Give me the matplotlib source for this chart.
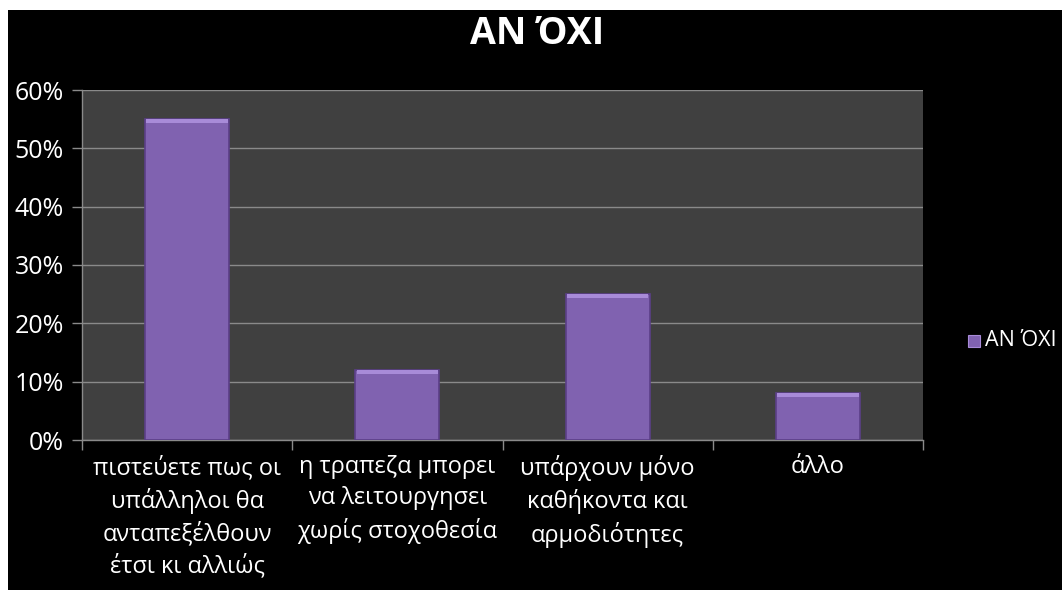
import numpy as np
import matplotlib
import matplotlib.pyplot as plt
from matplotlib.patches import Rectangle

matplotlib.use('Agg')
plt.rcParams['font.family'] = ['Open Sans', 'DejaVu Sans']

title = 'ΑΝ ΌΧΙ'
categories = ['πιστεύετε πως οι\nυπάλληλοι θα\nανταπεξέλθουν\nέτσι κι αλλιώς',
              'η τραπεζα μπορει\nνα λειτουργησει\nχωρίς στοχοθεσία',
              'υπάρχουν μόνο\nκαθήκοντα και\nαρμοδιότητες',
              'άλλο']
values = [0.55, 0.12, 0.25, 0.08]
y_ticks = [0, 0.1, 0.2, 0.3, 0.4, 0.5, 0.6]

bar_color = '#8062b0'
bevel_color = '#a88bd8'
edge_color = '#5b3f88'
grid_color = '#8a8a8a'

fig = plt.figure(figsize=(10.62, 5.9), dpi=100, facecolor='white')
# black slide background, leaving the thin white strip at top and left
fig.patches.append(Rectangle((8 / 1062, 0), 1, 1 - 10 / 590, transform=fig.transFigure,
                             facecolor='black', edgecolor='none', zorder=-10))

ax = fig.add_axes([82 / 1062, 1 - 440 / 590, 841 / 1062, 350 / 590])
ax.set_facecolor('#404040')

x = np.arange(len(categories))
width = 0.4
ax.bar(x, values, width, color=bar_color, edgecolor=edge_color, linewidth=1.2, zorder=3)
# lighter top bevel on each bar
bevel = 0.006
ax.bar(x, [bevel] * len(values), width * 0.97, bottom=np.array(values) - bevel,
       color=bevel_color, edgecolor='none', zorder=4)

ax.set_xlim(-0.5, len(categories) - 0.5)
ax.set_ylim(0, 0.6)
ax.set_yticks(y_ticks)
ax.set_yticklabels([f'{int(round(v * 100))}%' for v in y_ticks])
ax.yaxis.grid(True, color=grid_color, linewidth=1)
ax.set_axisbelow(True)

ax.set_xticks(x)
ax.set_xticklabels(categories, linespacing=1.4)
ax.set_xticks(np.arange(-0.5, len(categories)), minor=True)
ax.tick_params(axis='x', which='major', length=0, pad=11, labelsize=17, colors='white')
ax.tick_params(axis='x', which='minor', length=7, color=grid_color, width=1)
ax.tick_params(axis='y', length=7, color=grid_color, width=1, pad=6,
               labelsize=18, labelcolor='white')

for side in ['top', 'right']:
    ax.spines[side].set_visible(False)
for side in ['left', 'bottom']:
    ax.spines[side].set_color(grid_color)
    ax.spines[side].set_linewidth(1)

fig.text(537 / 1062, 1 - 34 / 590, title, ha='center', va='center',
         fontsize=27, fontweight='bold', color='white')

# legend entry on the right
fig.patches.append(Rectangle((968 / 1062, 1 - 347 / 590), 12 / 1062, 12 / 590,
                             transform=fig.transFigure, facecolor=bar_color,
                             edgecolor=bevel_color, linewidth=0.8))
fig.text(985 / 1062, 1 - 341 / 590, title, ha='left', va='center',
         fontsize=15.5, color='white')

fig.savefig('out.png', dpi=100, facecolor=fig.get_facecolor())
